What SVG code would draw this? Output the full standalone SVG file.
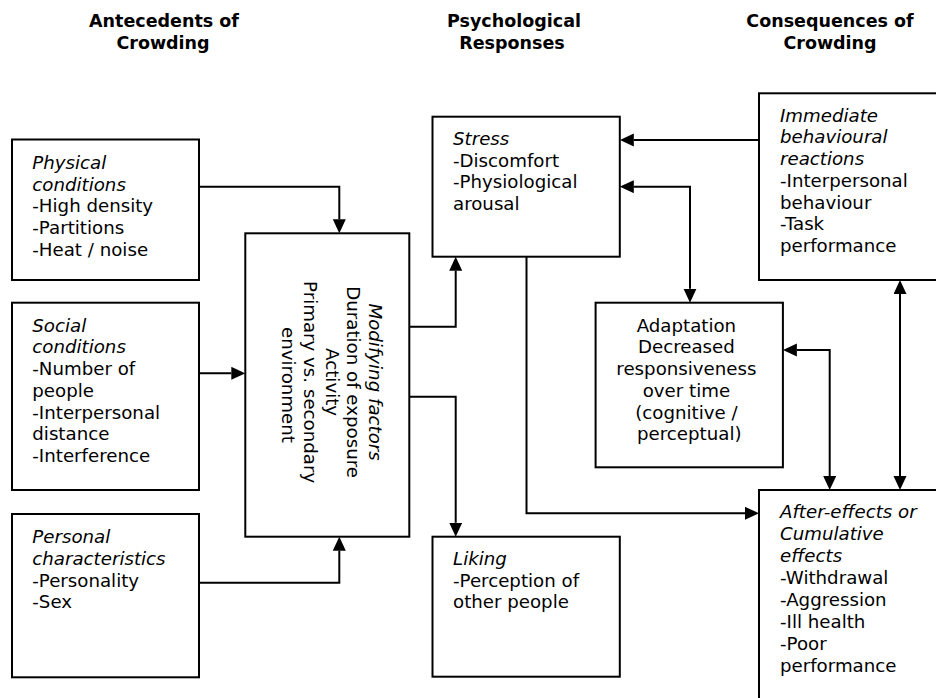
<svg xmlns="http://www.w3.org/2000/svg" width="936" height="698" viewBox="0 0 936 698">
  <style>
    .box { fill: #ffffff; stroke: #000000; stroke-width: 2; }
    .t { font-family: "DejaVu Sans", Verdana, sans-serif; font-size: 18.2px; fill: #000000; }
    .h { font-family: "DejaVu Sans", Verdana, sans-serif; font-size: 17.5px; font-weight: bold; fill: #000000; text-anchor: middle; }
    .i { font-style: italic; }
    .c { text-anchor: middle; }
    .ln { fill: none; stroke: #000000; stroke-width: 2; }
  </style>
  <defs>
    <marker id="arr" markerUnits="userSpaceOnUse" markerWidth="14" markerHeight="14" refX="0" refY="6.5" orient="auto-start-reverse">
      <path d="M0,0 L14,6.5 L0,13 Z" fill="#000000"/>
    </marker>
  </defs>
  <rect width="936" height="698" fill="#ffffff"/>

  <!-- column headings -->
  <g id="headings">
    <text class="h" x="164" y="26.5">Antecedents of<tspan x="163" y="48.8">Crowding</tspan></text>
    <text class="h" x="514" y="26.5">Psychological<tspan x="512" y="48.8">Responses</tspan></text>
    <text class="h" x="830" y="26.5">Consequences of<tspan x="830" y="48.8">Crowding</tspan></text>
  </g>

  <!-- connectors -->
  <g id="connectors">
    <path class="ln" d="M199,186.7 H339.3 V219.3" marker-end="url(#arr)"/>
    <path class="ln" d="M199,373.3 H231.3" marker-end="url(#arr)"/>
    <path class="ln" d="M199,582.7 H339.3 V550.7" marker-end="url(#arr)"/>
    <path class="ln" d="M409.3,326.7 H455.7 V270.7" marker-end="url(#arr)"/>
    <path class="ln" d="M409.3,396.7 H455.7 V522.7" marker-end="url(#arr)"/>
    <path class="ln" d="M759,140 H633.8" marker-end="url(#arr)"/>
    <path class="ln" d="M633.8,186.7 H690 V288.7" marker-start="url(#arr)" marker-end="url(#arr)"/>
    <path class="ln" d="M526.5,256.7 V513.3 H745" marker-end="url(#arr)"/>
    <path class="ln" d="M796.9,350 H829.7 V476" marker-start="url(#arr)" marker-end="url(#arr)"/>
    <path class="ln" d="M900,294 V476" marker-start="url(#arr)" marker-end="url(#arr)"/>
  </g>

  <g id="physical">
    <rect class="box" x="12" y="139.5" width="187" height="140.5"/>
    <text class="t" x="32.3" y="169">
      <tspan class="i" x="32.3" y="169">Physical</tspan>
      <tspan class="i" x="32.3" y="190.7">conditions</tspan>
      <tspan x="32.3" y="212.4">-High density</tspan>
      <tspan x="32.3" y="234.1">-Partitions</tspan>
      <tspan x="32.3" y="255.8">-Heat / noise</tspan>
    </text>
  </g>

  <g id="social">
    <rect class="box" x="12" y="302.7" width="187" height="187.3"/>
    <text class="t" x="32.3" y="331.7">
      <tspan class="i" x="32.3" y="331.7">Social</tspan>
      <tspan class="i" x="32.3" y="353.4">conditions</tspan>
      <tspan x="32.3" y="375.1">-Number of</tspan>
      <tspan x="32.3" y="396.8">people</tspan>
      <tspan x="32.3" y="418.5">-Interpersonal</tspan>
      <tspan x="32.3" y="440.2">distance</tspan>
      <tspan x="32.3" y="461.9">-Interference</tspan>
    </text>
  </g>

  <g id="personal">
    <rect class="box" x="12" y="514" width="187" height="163.3"/>
    <text class="t" x="32.3" y="543.3">
      <tspan class="i" x="32.3" y="543.3">Personal</tspan>
      <tspan class="i" x="32.3" y="565">characteristics</tspan>
      <tspan x="32.3" y="586.7">-Personality</tspan>
      <tspan x="32.3" y="608.4">-Sex</tspan>
    </text>
  </g>

  <g id="modifying">
    <rect class="box" x="245.3" y="233.3" width="164" height="303.4"/>
    <g transform="translate(369,385) rotate(90)">
      <text class="t c" x="0" y="0">
        <tspan class="i" x="0" y="0">Modifying factors</tspan>
        <tspan x="0" y="21.7">Duration of exposure</tspan>
        <tspan x="0" y="43.4">Activity</tspan>
        <tspan x="0" y="65.1">Primary vs. secondary</tspan>
        <tspan x="0" y="86.8">environment</tspan>
      </text>
    </g>
  </g>

  <g id="stress">
    <rect class="box" x="432.5" y="116.7" width="187.3" height="140"/>
    <text class="t" x="453" y="145">
      <tspan class="i" x="453" y="145">Stress</tspan>
      <tspan x="453" y="166.7">-Discomfort</tspan>
      <tspan x="453" y="188.4">-Physiological</tspan>
      <tspan x="453" y="210.1">arousal</tspan>
    </text>
  </g>

  <g id="liking">
    <rect class="box" x="432.5" y="536.7" width="187.3" height="140"/>
    <text class="t" x="453" y="565">
      <tspan class="i" x="453" y="565">Liking</tspan>
      <tspan x="453" y="586.7">-Perception of</tspan>
      <tspan x="453" y="608.4">other people</tspan>
    </text>
  </g>

  <g id="adaptation">
    <rect class="box" x="595.6" y="302.7" width="187.3" height="164.6"/>
    <text class="t c" x="689.3" y="331.7">
      <tspan x="689.3" y="331.7">Adaptation</tspan>
      <tspan x="689.3" y="353.4">Decreased</tspan>
      <tspan x="689.3" y="375.1">responsiveness</tspan>
      <tspan x="689.3" y="396.8">over time</tspan>
      <tspan x="689.3" y="418.5">(cognitive /</tspan>
      <tspan x="689.3" y="440.2">perceptual)</tspan>
    </text>
  </g>

  <g id="immediate">
    <rect class="box" x="759" y="93.3" width="190" height="186.7"/>
    <text class="t" x="780" y="121.7">
      <tspan class="i" x="780" y="121.7">Immediate</tspan>
      <tspan class="i" x="780" y="143.4">behavioural</tspan>
      <tspan class="i" x="780" y="165.1">reactions</tspan>
      <tspan x="780" y="186.8">-Interpersonal</tspan>
      <tspan x="780" y="208.5">behaviour</tspan>
      <tspan x="780" y="230.2">-Task</tspan>
      <tspan x="780" y="251.9">performance</tspan>
    </text>
  </g>

  <g id="after-effects">
    <rect class="box" x="759" y="490" width="190" height="220"/>
    <text class="t" x="780" y="518.3">
      <tspan class="i" x="780" y="518.3">After-effects or</tspan>
      <tspan class="i" x="780" y="540.2">Cumulative</tspan>
      <tspan class="i" x="780" y="562.1">effects</tspan>
      <tspan x="780" y="584">-Withdrawal</tspan>
      <tspan x="780" y="605.9">-Aggression</tspan>
      <tspan x="780" y="627.8">-Ill health</tspan>
      <tspan x="780" y="649.7">-Poor</tspan>
      <tspan x="780" y="671.6">performance</tspan>
    </text>
  </g>
</svg>
